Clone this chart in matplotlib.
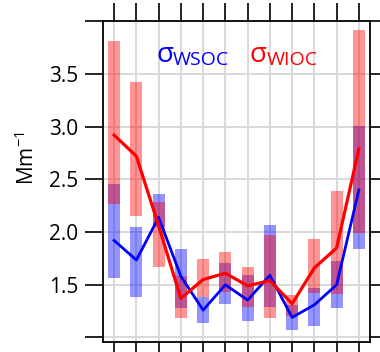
import matplotlib
matplotlib.use("Agg")
import matplotlib.pyplot as plt
import numpy as np

months = [1, 2, 3, 4, 5, 6, 7, 8, 9, 10, 11, 12]
wioc_line = [2.92, 2.72, 2.06, 1.37, 1.55, 1.61, 1.49, 1.54, 1.32, 1.66, 1.85, 2.79]
wsoc_line = [1.92, 1.735, 2.14, 1.58, 1.26, 1.50, 1.355, 1.59, 1.19, 1.31, 1.50, 2.40]
wioc_hi = [3.81, 3.42, 2.29, 1.58, 1.74, 1.81, 1.67, 1.97, 1.40, 1.93, 2.39, 3.92]
wioc_lo = [2.27, 2.15, 1.67, 1.18, 1.38, 1.43, 1.29, 1.18, 1.20, 1.42, 1.41, 1.99]
wsoc_hi = [2.46, 2.05, 2.36, 1.84, 1.38, 1.71, 1.59, 2.07, 1.31, 1.47, 1.73, 3.01]
wsoc_lo = [1.56, 1.38, 2.05, 1.28, 1.14, 1.32, 1.16, 1.29, 1.07, 1.11, 1.28, 1.84]
yticks = [1.0, 1.5, 2.0, 2.5, 3.0, 3.5, 4.0]
ytick_labels = ["", "1.5", "2.0", "2.5", "3.0", "3.5", ""]

plt.rcParams['font.family'] = ['Open Sans', 'DejaVu Sans']
plt.rcParams['mathtext.default'] = 'regular'

fig = plt.figure(figsize=(3.8, 3.52), dpi=100)
ax = fig.add_axes([103/380, 1-342/352, (370-103)/380, (342-21)/352])

x = np.array(months)
wsoc_h = np.array(wsoc_hi) - np.array(wsoc_lo)
wioc_h = np.array(wioc_hi) - np.array(wioc_lo)
ax.bar(x, wsoc_h, bottom=wsoc_lo, width=0.55, color='#0000ff', alpha=0.42, linewidth=0, zorder=2)
ax.bar(x, wioc_h, bottom=wioc_lo, width=0.55, color='#ff0000', alpha=0.42, linewidth=0, zorder=2)

ax.plot(x, wsoc_line, color='#0000ff', lw=2.0, zorder=4)
ax.plot(x, wioc_line, color='#ff0000', lw=2.3, zorder=5)

ax.set_xlim(0.5, 12.5)
ax.set_ylim(0.957, 4.003)
ax.set_xticks(months)
ax.set_xticklabels([])
ax.set_yticks(yticks)
ax.set_yticklabels(ytick_labels)
ax.grid(True, color='#d9d9d9', lw=1.4, zorder=0)
ax.set_axisbelow(True)
ax.tick_params(axis='both', direction='out', length=13, width=1.2, color='black',
               labelsize=15, pad=5)
ax.tick_params(axis='x', top=True, bottom=True, labeltop=False, labelbottom=False)
ax.tick_params(axis='y', left=True, right=True, labelright=False)
for s in ax.spines.values():
    s.set_linewidth(1.3)
    s.set_color('black')

fig.text(27/380, 1-158/352, "Mm$^{-1}$", rotation=90, ha='center', va='center', fontsize=15)

# legend-like labels
fig.text(156/380, 1-62/352, "σ", color='#0000ff', fontsize=20, ha='left', va='baseline')
fig.text(173/380, 1-65/352, "WSOC", color='#0000ff', fontsize=14, ha='left', va='baseline')
fig.text(249/380, 1-62/352, "σ", color='#ff0000', fontsize=20, ha='left', va='baseline')
fig.text(267/380, 1-65/352, "WIOC", color='#ff0000', fontsize=14, ha='left', va='baseline')

fig.savefig("out.png", dpi=100)
